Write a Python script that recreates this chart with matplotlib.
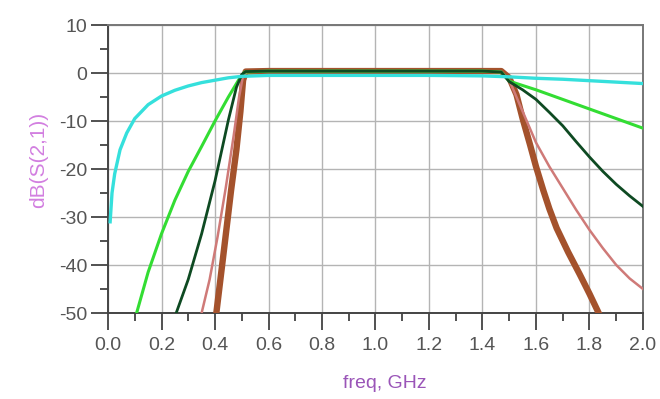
import matplotlib
matplotlib.use("Agg")
import matplotlib.pyplot as plt
from matplotlib.ticker import MultipleLocator

plt.rcParams['font.family'] = ['Liberation Sans', 'DejaVu Sans']

# ---- data ----
cyan_f = [0.008, 0.015, 0.025, 0.045, 0.07, 0.10, 0.15, 0.20, 0.25, 0.30, 0.35, 0.40, 0.45, 0.50,
          0.60, 0.80, 1.00, 1.20, 1.40, 1.50, 1.60, 1.70, 1.80, 1.90, 2.00]
cyan_db = [-31.0, -25.0, -21.0, -16.0, -12.5, -9.5, -6.6, -4.8, -3.6, -2.7, -2.0, -1.5, -1.0, -0.7,
           -0.5, -0.5, -0.5, -0.5, -0.6, -0.8, -1.1, -1.3, -1.6, -1.9, -2.2]

green_f = [0.095, 0.107, 0.15, 0.20, 0.25, 0.30, 0.35, 0.40, 0.45, 0.49, 0.51, 0.60, 1.00, 1.40, 1.47,
           1.50, 1.60, 1.70, 1.80, 1.90, 2.00]
green_db = [-52.0, -50.0, -41.5, -33.5, -26.5, -20.5, -15.3, -10.0, -5.0, -1.3, 0.2, 0.4, 0.4, 0.4, 0.2,
            -1.7, -3.5, -5.5, -7.5, -9.5, -11.5]

dkgreen_f = [0.25, 0.255, 0.30, 0.35, 0.40, 0.45, 0.48, 0.50, 0.515, 0.60, 1.00, 1.40, 1.47,
             1.50, 1.55, 1.60, 1.65, 1.70, 1.75, 1.80, 1.85, 1.90, 1.95, 2.00]
dkgreen_db = [-51.0, -50.0, -43.0, -33.5, -22.5, -9.8, -3.0, -0.3, 0.3, 0.4, 0.4, 0.4, 0.2,
              -1.8, -3.5, -5.5, -8.2, -11.0, -14.3, -17.5, -20.5, -23.2, -25.6, -27.8]

pink_f = [0.345, 0.35, 0.38, 0.41, 0.44, 0.47, 0.49, 0.505, 0.52, 0.60, 1.00, 1.40, 1.47,
          1.50, 1.55, 1.60, 1.65, 1.70, 1.75, 1.80, 1.85, 1.90, 1.95, 2.00]
pink_db = [-51.5, -50.0, -43.0, -34.0, -24.0, -13.0, -5.0, -0.5, 0.3, 0.4, 0.4, 0.4, 0.3,
           -1.5, -8.0, -14.5, -19.5, -24.0, -28.5, -32.7, -36.5, -40.0, -42.8, -45.0]

brown_f = [0.402, 0.405, 0.43, 0.46, 0.48, 0.495, 0.505, 0.515, 0.60, 1.00, 1.40, 1.47,
           1.50, 1.527, 1.55, 1.578, 1.60, 1.627, 1.65, 1.677, 1.72, 1.764, 1.80, 1.83, 1.845]
brown_db = [-51.5, -50.0, -38.5, -24.5, -16.0, -8.0, -1.5, 0.3, 0.4, 0.4, 0.4, 0.4,
            -1.0, -4.5, -9.5, -15.0, -19.5, -24.4, -28.3, -32.3, -37.3, -42.0, -46.0, -49.5, -51.3]

x_ticks = [0.0, 0.2, 0.4, 0.6, 0.8, 1.0, 1.2, 1.4, 1.6, 1.8, 2.0]
y_ticks = [-50, -40, -30, -20, -10, 0, 10]

fig = plt.figure(figsize=(6.6, 3.99), dpi=100)
ax = fig.add_axes([108/660, 1-313/399, 535/660, 288/399])

ax.plot(brown_f, brown_db, color='#a4522c', lw=4.6, solid_capstyle='butt', zorder=3)
ax.plot(pink_f, pink_db, color='#cf7a78', lw=1.8, zorder=4)
ax.plot(green_f, green_db, color='#33dd33', lw=2.2, zorder=5)
ax.plot(dkgreen_f, dkgreen_db, color='#0e4a22', lw=2.0, zorder=6)
ax.plot(cyan_f, cyan_db, color='#35e0dc', lw=2.4, zorder=7)

ax.set_xlim(0, 2.0)
ax.set_ylim(-50, 10)
ax.set_xticks(x_ticks)
ax.set_xticklabels([f"{v:.1f}" for v in x_ticks])
ax.set_yticks(y_ticks)
ax.set_yticklabels([str(v) for v in y_ticks])
ax.xaxis.set_minor_locator(MultipleLocator(0.1))
ax.yaxis.set_minor_locator(MultipleLocator(5))

ax.grid(True, which='major', color='#b4b4b4', lw=1.0, zorder=0)
ax.set_axisbelow(True)

ax.tick_params(axis='both', which='major', direction='out', length=12, width=1.2,
               color='#333333', labelsize=14, labelcolor='#555555', pad=3)
ax.tick_params(axis='both', which='minor', direction='out', length=6, width=1.2, color='#333333')
ax.tick_params(axis='x', which='major', pad=5)

for side in ['left', 'bottom']:
    ax.spines[side].set_color('#444444')
    ax.spines[side].set_linewidth(1.4)
for side in ['top', 'right']:
    ax.spines[side].set_color('#777777')
    ax.spines[side].set_linewidth(1.4)

ax.set_ylabel('dB(S(2,1))', color='#d27fe0', fontsize=15)
ax.yaxis.set_label_coords(-0.112, 0.53)
ax.set_xlabel('freq, GHz', color='#9a55b8', fontsize=14)
ax.xaxis.set_label_coords(0.518, -0.215)

fig.savefig('out.png', dpi=100)
